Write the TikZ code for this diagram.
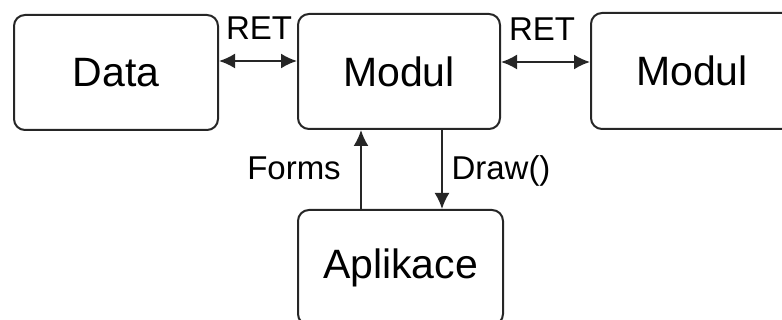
\documentclass[tikz,border=0pt]{standalone}
\usepackage{fontspec}
\setmainfont{Liberation Sans}
\usetikzlibrary{arrows.meta}
\begin{document}
\begin{tikzpicture}[x=1pt,y=1pt,
  box/.style={draw=black!85,line width=2pt,rounded corners=11pt,inner sep=0pt,
    font=\fontsize{41}{41}\selectfont},
  lbl/.style={inner sep=0pt,anchor=base,font=\fontsize{33}{33}\selectfont},
  arr/.style={line width=2pt,draw=black!85,-{Latex[length=16pt,width=15pt]}},
  arrr/.style={line width=2pt,draw=black!85,{Latex[length=16pt,width=15pt]}-{Latex[length=16pt,width=15pt]}}]
\useasboundingbox (0,0) rectangle (782,-320);
\node[box,minimum width=204pt,minimum height=115pt] (data) at (116,-72.5) {Data};
\node[box,minimum width=202pt,minimum height=115pt] (m1) at (399,-71.5) {Modul};
\node[box,minimum width=202pt,minimum height=116pt] (m2) at (692,-71) {Modul};
\node[box,minimum width=205pt,minimum height=115pt] (apl) at (400.5,-267.5) {Aplikace};
\draw[arrr] (data.east |- 0,-61) -- (m1.west |- 0,-61);
\draw[arrr] (m1.east |- 0,-62) -- (m2.west |- 0,-62);
\draw[arr] (apl.north -| 361,0) -- (m1.south -| 361,0);
\draw[arr] (m1.south -| 442,0) -- (apl.north -| 442,0);
\node[lbl] (ret1) at (259,-40) {RET};
\node[lbl] (ret2) at (542,-41) {RET};
\node[lbl] (forms) at (294,-180) {Forms};
\node[lbl] (draw) at (501,-180) {Draw()};
\end{tikzpicture}
\end{document}
